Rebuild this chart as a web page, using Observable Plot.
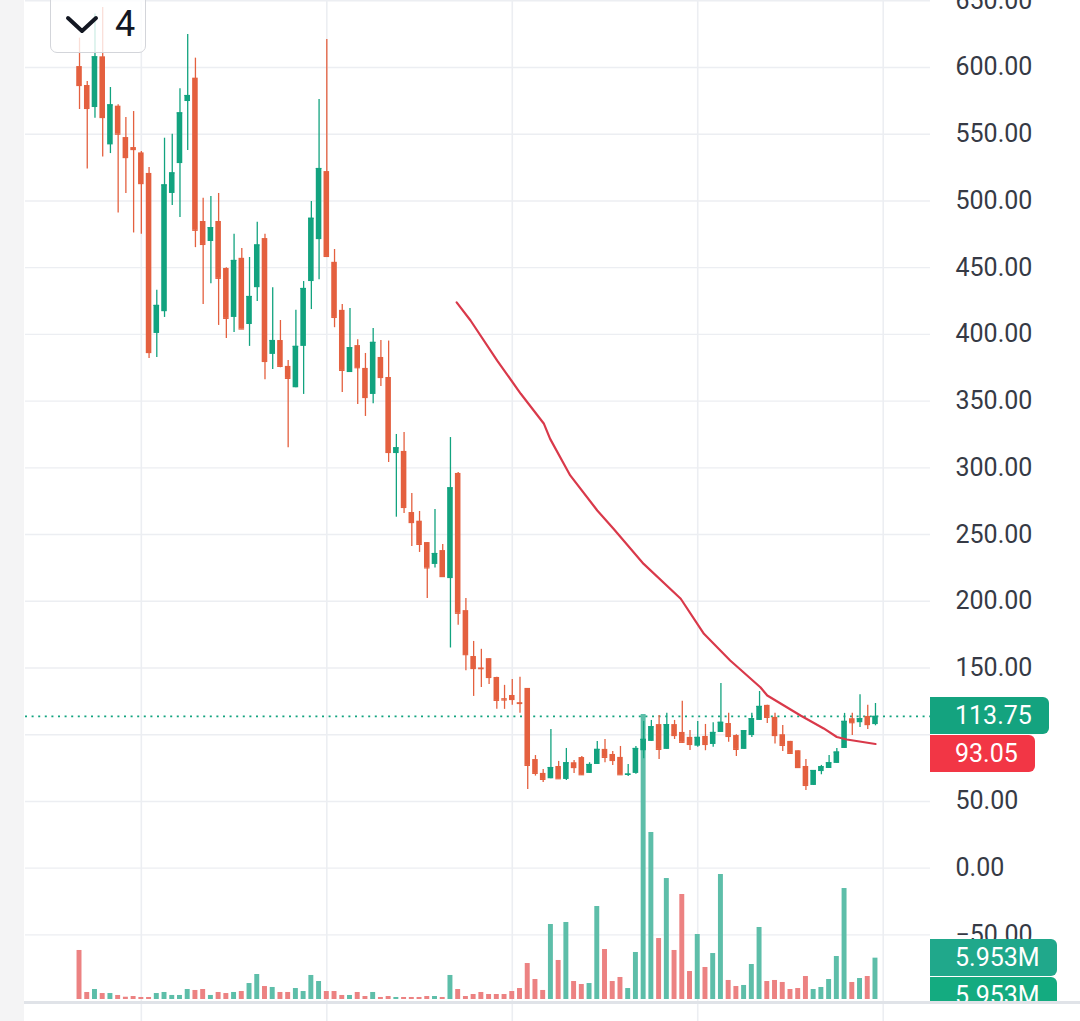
<!DOCTYPE html>
<html><head><meta charset="utf-8">
<script src="https://cdn.jsdelivr.net/npm/d3@7"></script>
<script src="https://cdn.jsdelivr.net/npm/@observablehq/plot@0.6"></script>
<style>
html,body{margin:0;padding:0;background:#fff;}
#wrap{position:relative;width:1080px;height:1021px;overflow:hidden;font-family:Roboto,"Noto Sans",sans-serif;}
#wrap svg{position:absolute;left:0;top:0;}
.tag{position:absolute;left:930px;height:37px;line-height:37px;padding:0 17px 0 25px;color:#fff;font-size:25px;border-radius:0 6px 6px 0;white-space:nowrap;}
</style></head><body><div id="wrap"></div><script>
// ---- data ----
const open = [600.7,586.5,570,608,542,571,547.5,540,536,520.6, 400.7,417,505.6,528,574.5,592,484.6,469.6,484.6,449.4, 412.7,457,407.4,435,471.8,385,395.4,376,360,391, 439.6,471,522,454,418,371.4,391.6,374.5,355,382.7, 367.7,310.7,312.3,266.5,260,244,227.6,238,217,295.8, 193,158.6,150,157,142.9,127,129.4,124,134.7,81.4, 71,67,76.2,66.5,79,82.9,71,77.7,89,85.2, 83,69.5,71,88,95,107.6,89,107.6,101.7,98, 91.4,98.7,92.7,101.7,108.4,99.4,89,99.4,110.7,122, 113,100,95,88,76.2,62,72.4,74.7,78.5,89.7, 112,109,113.7,107.6];
const high = [622,589.5,640,645,585,572,562.5,567,537,525, 433,547,550,584,624.7,607,502,503.3,505.6,450, 475,464.4,457.6,484,475,435,410.4,380.4,418,439.6, 499.6,576,621,463.6,422.4,419.4,396,385.7,404.4,395.4, 395,325,326.5,280.8,267.3,244,268.8,242.6,322.7,296.5, 202,169.9,164,157,143,137,141.4,143,134.7,84.4, 74,104,80,89.7,80.7,83.7,79,95,96.4,87.4, 91.2,77.7,91.2,110,110.7,114.4,116,110.7,125,103.2, 110,107.7,109,138.4,116,100,103,116,132.4,122, 116,107,95,88,81.5,73.2,77,84.4,89.7,116, 116,130,122,123.4];
const low = [568.5,524,562,533,535.5,491,505.6,476,475,382, 382.7,412.7,496.6,487.6,537.8,465,422.4,438,406.7,397, 401.4,404,391,424.6,366,373.7,375,315,360,355, 418.6,441,457.6,405,356.5,371.4,347.5,338.5,348,361, 304,263,265.8,241,236.6,202,225,218,165,182, 148,128.7,135.4,137.7,119,119,122,116,59,69, 64.2,67,67,65.7,71,69.4,71,77.7,79,77, 70,68.7,70.4,82,95,81.5,89,96.4,93.4,88.2, 90.6,88,90.6,101.7,94.3,83.7,89,98,110.7,108.4, 93,87.4,86,75.4,58.2,62,70,74.7,78.5,89.7, 99.4,105.4,104,106.7];
const close = [586.5,569.3,608,562.5,572,550,532.5,538.5,513,386.4, 421.7,512,521,566,579,478,467.4,480,442,412, 455.4,404,428.4,467,379.7,395.4,376,367,391,434.4, 487,524.3,458.4,412.7,373,390,375,352.7,394,367.7, 311.5,315,270.3,259,242.6,225,235.8,218.5,285,191, 160,149.6,149.5,142.9,125.7,126,126.4,123.4,77,71, 66.5,75.4,67,79,75.4,70,77.7,89,83,80.7, 70,70.5,89.7,96.5,106,89,107.6,99.4,94.3,92.7, 98,92.7,101.7,109.3,98.7,89,103,112,121.2,113, 99.4,92,86,75.4,62,73.2,76,79,87,110, 109,112,107.6,113.75];
const volumeM = [7.06,1.01,1.44,0.86,0.86,0.58,0.33,0.43,0.29,0.29, 0.86,1.01,0.58,0.58,1.44,1.3,1.44,0.58,1.01,0.86, 1.01,1.15,2.3,3.6,1.87,1.73,1.01,1.01,1.58,1.15, 3.46,2.59,1.15,1.15,0.58,0.58,1.01,0.43,1.01,0.29, 0.43,0.29,0.29,0.29,0.29,0.43,0.43,0.29,3.46,1.44, 0.43,0.72,1.01,0.72,0.72,0.72,1.15,1.58,5.18,2.88, 1.3,10.8,5.62,11.09,2.59,2.16,2.3,13.39,7.2,2.59, 3.17,1.58,6.77,41.04,24.05,8.78,17.42,7.06,15.12,4.03, 9.36,4.61,6.62,18.0,2.74,1.87,2.02,5.04,10.37,2.59, 2.74,2.45,1.44,1.58,3.31,1.44,1.73,2.88,6.19,15.98, 2.45,3.02,3.31,5.953];
// moving-average line, read at positions along the bars (bar index, value)
const maIndex = [48.8,50.6,54.05,57.1,60.1,60.9,63.5,67.0,69.1,73.0,77.8,80.8,84.2,88.1,89.0,93.3,96.3,98.0,99.3,103.0];
const maValue = [424,410.4,380.4,355.5,333,321.7,294.3,268,254.3,228,201.9,175.6,155.6,135.6,129.4,114.4,104.7,98.3,96.4,93.05];
const gridTicks = [-50,0,50,100,150,200,250,300,350,400,450,500,550,600,650];
const labelTicks = [-50,0,50,150,200,250,300,350,400,450,500,550,600,650];
const xGridIndex = [8,32,56,80,104];
const lastPrice = 113.75, maLast = 93.05, lastVolLabel = "5.953M";
const intervalLabel = "4";

// ---- build ----
const candles = open.map((o,i)=>({i, open:o, high:high[i], low:low[i], close:close[i], vol:volumeM[i], up: close[i] >= o}));
const ma = maIndex.map((x,k)=>({i:x, v:maValue[k]}));

const GREEN="#12a37f", RED="#e4603f", VGREEN="#5dbea9", VRED="#ec8282";
const W=1080, H=1021;
const xs = {type:"linear", domain:[-6.99,110.12], axis:null};
const common = {width:W, height:H, marginLeft:25, marginRight:150, marginTop:0, marginBottom:0, style:{background:"transparent", fontFamily:"Roboto"}};
const yPrice = {domain:[-114.9,650.2], axis:null};

const wrap = document.getElementById("wrap");

// left strip
const strip = document.createElement("div");
strip.style.cssText="position:absolute;left:0;top:0;width:24px;height:1021px;background:#f4f4f5;";
wrap.appendChild(strip);

// layer 1: grid + axis
const gridPlot = Plot.plot({...common, x:xs, y:yPrice, marks:[
  Plot.ruleY(gridTicks, {stroke:"#eceef2", strokeWidth:1.4}),
  Plot.ruleX(xGridIndex, {stroke:"#eceef2", strokeWidth:1.6}),
  Plot.axisY(labelTicks, {anchor:"right", tickSize:0, tickPadding:25, fontSize:25, fill:"#363a45", tickFormat:d3.format(".2f"), label:null})
]});
wrap.appendChild(gridPlot);

// layer 2: volume
const volPlot = Plot.plot({...common, x:xs, y:{domain:[0,41.04], range:[999,714], axis:null}, marks:[
  Plot.rect(candles, {x1:d=>d.i-0.32, x2:d=>d.i+0.32, y1:0, y2:"vol", fill:d=>d.up?VGREEN:VRED})
]});
wrap.appendChild(volPlot);

// layer 3: candles + MA + last price
const pricePlot = Plot.plot({...common, x:xs, y:yPrice, marks:[
  Plot.ruleY([lastPrice], {stroke:GREEN, strokeWidth:1.7, strokeDasharray:"2,4.6"}),
  Plot.ruleX(candles, {x:"i", y1:"low", y2:"high", stroke:d=>d.up?GREEN:RED, strokeWidth:1.3}),
  Plot.rect(candles, {x1:d=>d.i-0.36, x2:d=>d.i+0.36, y1:"open", y2:"close", fill:d=>d.up?GREEN:RED}),
  Plot.ruleY(candles, {y:"close", x1:d=>d.i-0.36, x2:d=>d.i+0.36, stroke:d=>d.up?GREEN:RED, strokeWidth:1.2}),
  Plot.line(ma, {x:"i", y:"v", stroke:"#d9394a", strokeWidth:2.2})
]});
wrap.appendChild(pricePlot);

const py = pricePlot.scale("y"), vy = volPlot.scale("y");

function tag(text, top, bg){
  const d=document.createElement("div");
  d.className="tag"; d.textContent=text; d.style.top=top+"px"; d.style.background=bg;
  wrap.appendChild(d); return d;
}
const t1 = py.apply(lastPrice)-18.5;
tag(lastPrice.toFixed(2), t1, "#14a37f");
const t2 = Math.max(py.apply(maLast)-18.5, t1+38);
tag(maLast.toFixed(2), t2, "#f23645");
const t3 = vy.apply(volumeM[volumeM.length-1])-18.5;
tag(lastVolLabel, t3, "#20a88b");
// second, clipped volume tag
const clip=document.createElement("div");
clip.style.cssText=`position:absolute;left:0;top:${t3+38}px;width:1080px;height:${1001-(t3+38)}px;overflow:hidden;`;
const t4=document.createElement("div"); t4.className="tag"; t4.textContent=lastVolLabel; t4.style.top="0px"; t4.style.background="#14ab80";
clip.appendChild(t4); wrap.appendChild(clip);

// bottom separator
const sep=document.createElement("div");
sep.style.cssText="position:absolute;left:24px;top:1001px;width:1056px;height:2.5px;background:#e0e3e8;";
wrap.appendChild(sep);

// interval button
const btn=document.createElement("div");
btn.style.cssText="position:absolute;left:50px;top:-8px;width:96px;height:61px;border:1.5px solid #d3d5da;border-radius:7px;background:rgba(255,255,255,0.8);box-sizing:border-box;";
btn.innerHTML=`<svg width="96" height="61" style="position:absolute;left:0;top:0"><path d="M17 25 L31 38 L45 25" fill="none" stroke="#131722" stroke-width="4" stroke-linecap="round" stroke-linejoin="round"/><text x="64" y="42.5" font-size="36" font-family="Roboto" fill="#131722">${intervalLabel}</text></svg>`;
wrap.appendChild(btn);
</script></body></html>
